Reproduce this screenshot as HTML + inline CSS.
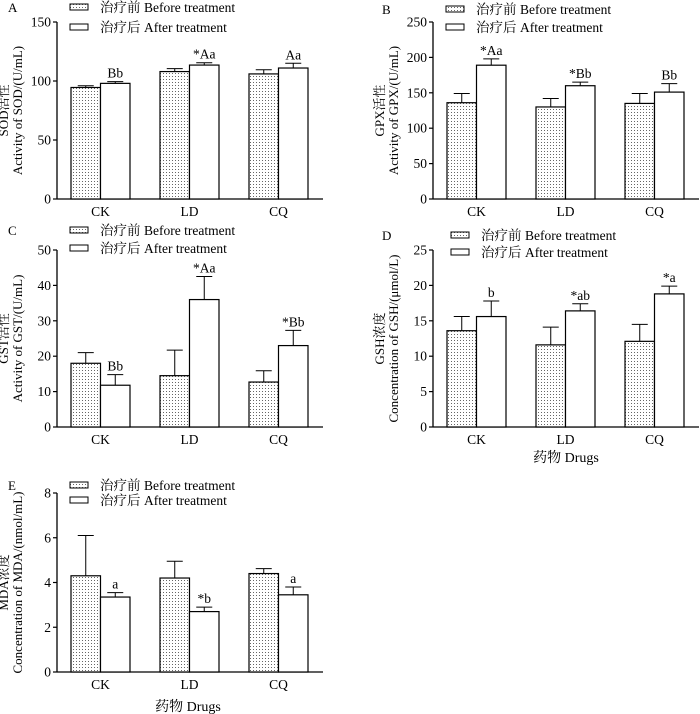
<!DOCTYPE html>
<html><head><meta charset="utf-8"><style>
body{margin:0;background:#fff}
svg{display:block;font-family:"Liberation Serif","Noto Serif CJK SC","Noto Sans CJK SC",serif}
</style></head><body>
<svg id="fig" width="700" height="714" viewBox="0 0 700 714">
<defs><pattern id="dots" width="3" height="3" patternUnits="userSpaceOnUse"><rect width="3" height="3" fill="#fff"/><rect x="1" y="1" width="1" height="1" fill="#666"/></pattern></defs>
</svg>
<script>
const categories=["CK","LD","CQ"];
const sodBefore=[94.5,108,106], sodBeforeErr=[1.5,2.5,3.5], sodAfter=[98,113.5,111], sodAfterErr=[1.5,2,4], sodLabels=["Bb","*Aa","Aa"];
const gpxBefore=[136,130,135], gpxBeforeErr=[13,12,14], gpxAfter=[189,160,151], gpxAfterErr=[9,5,12], gpxLabels=["*Aa","*Bb","Bb"];
const gstBefore=[18,14.5,12.7], gstBeforeErr=[3,7.2,3.2], gstAfter=[11.8,36,23], gstAfterErr=[3,6.5,4.3], gstLabels=["Bb","*Aa","*Bb"];
const gshBefore=[13.6,11.6,12.1], gshBeforeErr=[2,2.5,2.4], gshAfter=[15.6,16.4,18.8], gshAfterErr=[2.2,1,1.1], gshLabels=["b","*ab","*a"];
const mdaBefore=[4.3,4.2,4.4], mdaBeforeErr=[1.8,0.75,0.22], mdaAfter=[3.35,2.7,3.45], mdaAfterErr=[0.2,0.2,0.35], mdaLabels=["a","*b","a"];
const sodTicks=[0,50,100,150], gpxTicks=[0,50,100,150,200,250], gstTicks=[0,10,20,30,40,50], gshTicks=[0,5,10,15,20,25], mdaTicks=[0,2,4,6,8];

const svg=document.getElementById('fig');
const NS='http://www.w3.org/2000/svg';
function mk(t,a,p){const e=document.createElementNS(NS,t);for(const k in a)e.setAttribute(k,a[k]);(p||svg).appendChild(e);return e;}
function txt(s,a,p){const e=mk('text',a,p);e.textContent=s;return e;}

function panel(id,letter,ox,oy,top,bot,ticks,before,beforeErr,after,afterErr,labels,yl1,yl2,legY1,legY2,legX,drugs){
  const g=mk('g',{});
  
  
  const right=(id==='gpx'||id==='gsh');
  const axX=right?ox+83:ox+57;
  const xr=right?ox+349:ox+323;
  const max=ticks[ticks.length-1];
  const y=v=>bot-(v/max)*(bot-top);
  const t=txt(letter,{x:right?ox+32:ox+8,y:legY1+5,'font-size':13},g);
  
  
  const l1=mk('rect',{x:legX,y:legY1-3,width:18,height:6,fill:'url(#dots)',stroke:'#000','stroke-width':1},g);
  
  
  const lt1=txt('治疗前',{x:legX+30,y:legY1+5,'font-size':13.5},g);
  
  
  const lt1b=txt('Before treatment',{x:legX+74,y:legY1+5,'font-size':13.5},g);
  
  
  const l2=mk('rect',{x:legX,y:legY2-3,width:18,height:6,fill:'#fff',stroke:'#000','stroke-width':1},g);
  
  
  const lt2=txt('治疗后',{x:legX+30,y:legY2+5,'font-size':13.5},g);
  
  
  const lt2b=txt('After treatment',{x:legX+74,y:legY2+5,'font-size':13.5},g);
  
  
  const ya=mk('line',{x1:axX,y1:top,x2:axX,y2:bot,stroke:'#000','stroke-width':1.3},g);
  
  
  const xa=mk('line',{x1:axX,y1:bot,x2:xr,y2:bot,stroke:'#000','stroke-width':1.3},g);
  
  
  ticks.forEach(v=>{
    mk('line',{x1:axX-4,y1:y(v),x2:axX,y2:y(v),stroke:'#000','stroke-width':1.2},g);
    const tl=txt(String(v),{x:axX-6,y:y(v)+4.5,'font-size':13.5,'text-anchor':'end'},g);
    
    
  });
  const bw=29.5, gap=89;
  categories.forEach((c,i)=>{
    const x0=axX+14+i*gap;
    const draw=(v,e,x,fill,nm)=>{
      mk('line',{x1:x+bw/2,y1:y(v),x2:x+bw/2,y2:y(v+e),stroke:'#000','stroke-width':1},g);
      mk('line',{x1:x+bw/2-8,y1:y(v+e),x2:x+bw/2+8,y2:y(v+e),stroke:'#000','stroke-width':1},g);
      const r=mk('rect',{x:x,y:y(v),width:bw,height:bot-y(v),fill:fill,stroke:'#000','stroke-width':1.2},g);
      
      
    };
    draw(before[i],beforeErr[i],x0,'url(#dots)','bar-before-'+c.toLowerCase());
    draw(after[i],afterErr[i],x0+bw,'#fff','bar-after-'+c.toLowerCase());
    const sl=txt(labels[i],{x:x0+bw*1.5,y:y(after[i]+afterErr[i])-4,'font-size':13.5,'text-anchor':'middle'},g);
    
    
    const cl=txt(c,{x:x0+bw,y:bot+17,'font-size':13.5,'text-anchor':'middle'},g);
    
    
  });
  const cy=(top+bot)/2, x1=axX-49, x2=axX-35;
  const y1t=txt(yl1,{x:x1,y:cy,'font-size':13,'text-anchor':'middle',transform:`rotate(-90 ${x1} ${cy})`},g);
  
  
  const y2t=txt(yl2,{x:x2,y:cy,'font-size':13,'text-anchor':'middle',transform:`rotate(-90 ${x2} ${cy})`},g);
  
  
  if(drugs){
    const dt=txt('药物  Drugs',{x:drugs[0],y:drugs[1],'font-size':14,'text-anchor':'middle'},g);
    
    
  }
}
panel('sod','A',0,0,22,199,sodTicks,sodBefore,sodBeforeErr,sodAfter,sodAfterErr,sodLabels,'SOD活性','Activity of SOD/(U/mL)',7,27,70);
panel('gpx','B',350,0,22,199,gpxTicks,gpxBefore,gpxBeforeErr,gpxAfter,gpxAfterErr,gpxLabels,'GPX活性','Activity of GPX/(U/mL)',9,27,446);
panel('gst','C',0,225,250,427,gstTicks,gstBefore,gstBeforeErr,gstAfter,gstAfterErr,gstLabels,'GST活性','Activity of GST/(U/mL)',230,248,70);
panel('gsh','D',350,225,250,427,gshTicks,gshBefore,gshBeforeErr,gshAfter,gshAfterErr,gshLabels,'GSH浓度','Concentration of GSH/(μmol/L)',235,252,451,[566,462]);
panel('mda','E',0,470,493,672,mdaTicks,mdaBefore,mdaBeforeErr,mdaAfter,mdaAfterErr,mdaLabels,'MDA浓度','Concentration of MDA/(nmol/mL)',485,500,70,[188,711]);
</script>
</body></html>
